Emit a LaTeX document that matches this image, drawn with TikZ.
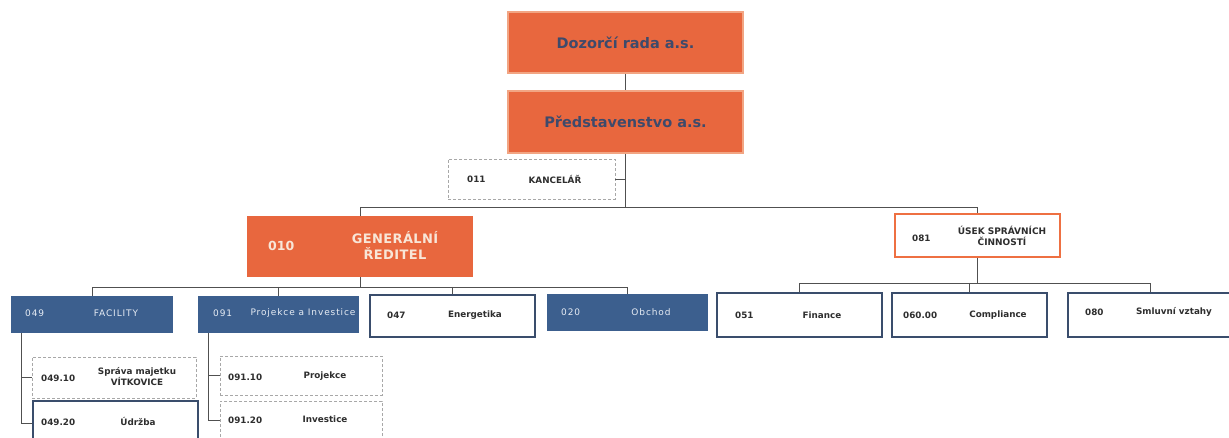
\documentclass[tikz,border=0pt]{standalone}
\usepackage{fontspec}
\setmainfont{DejaVu Sans}
\definecolor{orgfill}{HTML}{E8673E}
\definecolor{orgedge}{HTML}{F2A583}
\definecolor{titletext}{HTML}{3E4A6B}
\definecolor{grtext}{HTML}{F8E6D8}
\definecolor{bluefill}{HTML}{3C5F8E}
\definecolor{bluetext}{HTML}{E6ECF4}
\definecolor{boxedge}{HTML}{3A4D6C}
\definecolor{usekedge}{HTML}{EE7042}
\definecolor{dashgray}{HTML}{A8A8A8}
\definecolor{conn}{HTML}{505050}
\definecolor{darktext}{HTML}{2E2E2E}
\tikzset{
  bx/.style={rectangle, inner sep=0pt},
  topbox/.style={bx, fill=orgfill, draw=orgedge, line width=1.6pt},
  grbox/.style={bx, fill=orgfill},
  usekbox/.style={bx, fill=white, draw=usekedge, line width=1.6pt},
  bluebox/.style={bx, fill=bluefill},
  whitebox/.style={bx, fill=white, draw=boxedge, line width=1.6pt},
  dotbox/.style={bx, fill=white, draw=dashgray, line width=0.7pt, densely dashed},
  conline/.style={draw=conn, line width=0.8pt},
  titletxt/.style={font=\bfseries\fontsize{14.5}{16}\selectfont, text=titletext},
  grtxt/.style={font=\bfseries\fontsize{13}{16}\selectfont\addfontfeatures{LetterSpace=3}, text=grtext, align=center},
  codetxt/.style={anchor=west, font=\bfseries\fontsize{8.8}{10}\selectfont, text=darktext, inner sep=0pt},
  nametxt/.style={font=\bfseries\fontsize{8.8}{10}\selectfont, text=darktext, align=center, inner sep=0pt},
  bcodetxt/.style={anchor=west, font=\fontsize{9}{10}\selectfont\addfontfeatures{LetterSpace=10}, text=bluetext, inner sep=0pt},
  bnametxt/.style={font=\fontsize{9}{10}\selectfont\addfontfeatures{LetterSpace=10}, text=bluetext, inner sep=0pt},
}
\begin{document}
\begin{tikzpicture}[x=1pt,y=-1pt]
\useasboundingbox[fill=white] (0,0) rectangle (1229,438);
% boxes
\node[topbox, minimum width=235pt, minimum height=61pt] (dozor) at (625.5,42.5) {};
\node[topbox, minimum width=235pt, minimum height=62pt] (pred) at (625.5,122) {};
\node[dotbox, minimum width=167pt, minimum height=40pt] (kanc) at (531.5,179) {};
\node[grbox, minimum width=226pt, minimum height=61pt] (gr) at (360,246.5) {};
\node[usekbox, minimum width=165pt, minimum height=43pt] (usek) at (977.5,235.5) {};
\node[bluebox, minimum width=162pt, minimum height=37pt] (fac) at (92,314.5) {};
\node[bluebox, minimum width=161pt, minimum height=37pt] (proj) at (278.5,314.5) {};
\node[whitebox, minimum width=165pt, minimum height=42pt] (ener) at (452.5,316) {};
\node[bluebox, minimum width=161pt, minimum height=37pt] (obch) at (627.5,312.5) {};
\node[whitebox, minimum width=165pt, minimum height=44pt] (fin) at (799.5,315) {};
\node[whitebox, minimum width=155pt, minimum height=44pt] (comp) at (969.5,315) {};
\node[whitebox, minimum width=164pt, minimum height=44pt] (smlu) at (1150,315) {};
\node[dotbox, minimum width=164pt, minimum height=41pt] (s4910) at (114,377.5) {};
\node[whitebox, minimum width=165pt, minimum height=44pt] (s4920) at (115.5,423) {};
\node[dotbox, minimum width=162pt, minimum height=39pt] (s9110) at (301,375.5) {};
\node[dotbox, minimum width=162pt, minimum height=38pt] (s9120) at (301,420) {};
% texts
\node[titletxt] (tdozor) at (dozor) {Dozorčí rada a.s.};
\node[titletxt] (tpred) at (pred) {Představenstvo a.s.};
\node[codetxt] (ckanc) at (467,179) {011};
\node[nametxt] (nkanc) at (555,179) {KANCELÁŘ};
\node[anchor=west, font=\bfseries\fontsize{12.5}{14}\selectfont, text=grtext, inner sep=0pt] (cgr) at (268,246) {010};
\node[grtxt] (ngr) at (395,245) {GENERÁLNÍ\\ŘEDITEL};
\node[codetxt] (cusek) at (912,238) {081};
\node[nametxt, font=\bfseries\fontsize{9}{11}\selectfont] (nusek) at (1002,236) {ÚSEK SPRÁVNÍCH\\ČINNOSTÍ};
\node[bcodetxt] (cfac) at (25,313) {049};
\node[bnametxt] (nfac) at (116,313) {FACILITY};
\node[bcodetxt] (cproj) at (213,313) {091};
\node[bnametxt] (nproj) at (303,313) {Projekce a Investice};
\node[codetxt] (cener) at (387,315) {047};
\node[nametxt] (nener) at (475,315) {Energetika};
\node[bcodetxt] (cobch) at (561,312) {020};
\node[bnametxt] (nobch) at (651,312) {Obchod};
\node[codetxt] (cfin) at (735,315) {051};
\node[nametxt] (nfin) at (822,315) {Finance};
\node[codetxt] (ccomp) at (903,315) {060.00};
\node[nametxt] (ncomp) at (998,315) {Compliance};
\node[codetxt] (csmlu) at (1085,312) {080};
\node[nametxt] (nsmlu) at (1174,312) {Smluvní vztahy};
\node[codetxt] (c4910) at (41,378) {049.10};
\node[nametxt] (n4910) at (137,377) {Správa majetku\\VÍTKOVICE};
\node[codetxt] (c4920) at (41,422) {049.20};
\node[nametxt] (n4920) at (138,421) {Údržba};
\node[codetxt] (c9110) at (228,377) {091.10};
\node[nametxt] (n9110) at (325,376) {Projekce};
\node[codetxt] (c9120) at (228,420) {091.20};
\node[nametxt] (n9120) at (325,419) {Investice};
% connectors
\coordinate (busA) at (625.5,207);
\coordinate (busB) at (0,287);
\coordinate (busC) at (0,283);
\coordinate (facx) at (21,0);
\coordinate (projx) at (208,0);
\draw[conline] (dozor.south) -- (pred.north);
\draw[conline] (pred.south) -- (busA);
\draw[conline] (kanc.east) -- (kanc.east -| busA);
\draw[conline] (gr.north) -- (gr.north |- busA) -- (usek.north |- busA) -- (usek.north);
\draw[conline] (gr.south) -- (gr.south |- busB);
\draw[conline] (fac.north) -- (fac.north |- busB) -- (obch.north |- busB) -- (obch.north);
\draw[conline] (proj.north |- busB) -- (proj.north);
\draw[conline] (ener.north |- busB) -- (ener.north);
\draw[conline] (usek.south) -- (usek.south |- busC);
\draw[conline] (fin.north) -- (fin.north |- busC) -- (smlu.north |- busC) -- (smlu.north);
\draw[conline] (comp.north |- busC) -- (comp.north);
\draw[conline] (fac.south -| facx) |- (s4920.west);
\draw[conline] (s4910.west -| facx) -- (s4910.west);
\draw[conline] (proj.south -| projx) |- (s9120.west);
\draw[conline] (s9110.west -| projx) -- (s9110.west);
\end{tikzpicture}
\end{document}
